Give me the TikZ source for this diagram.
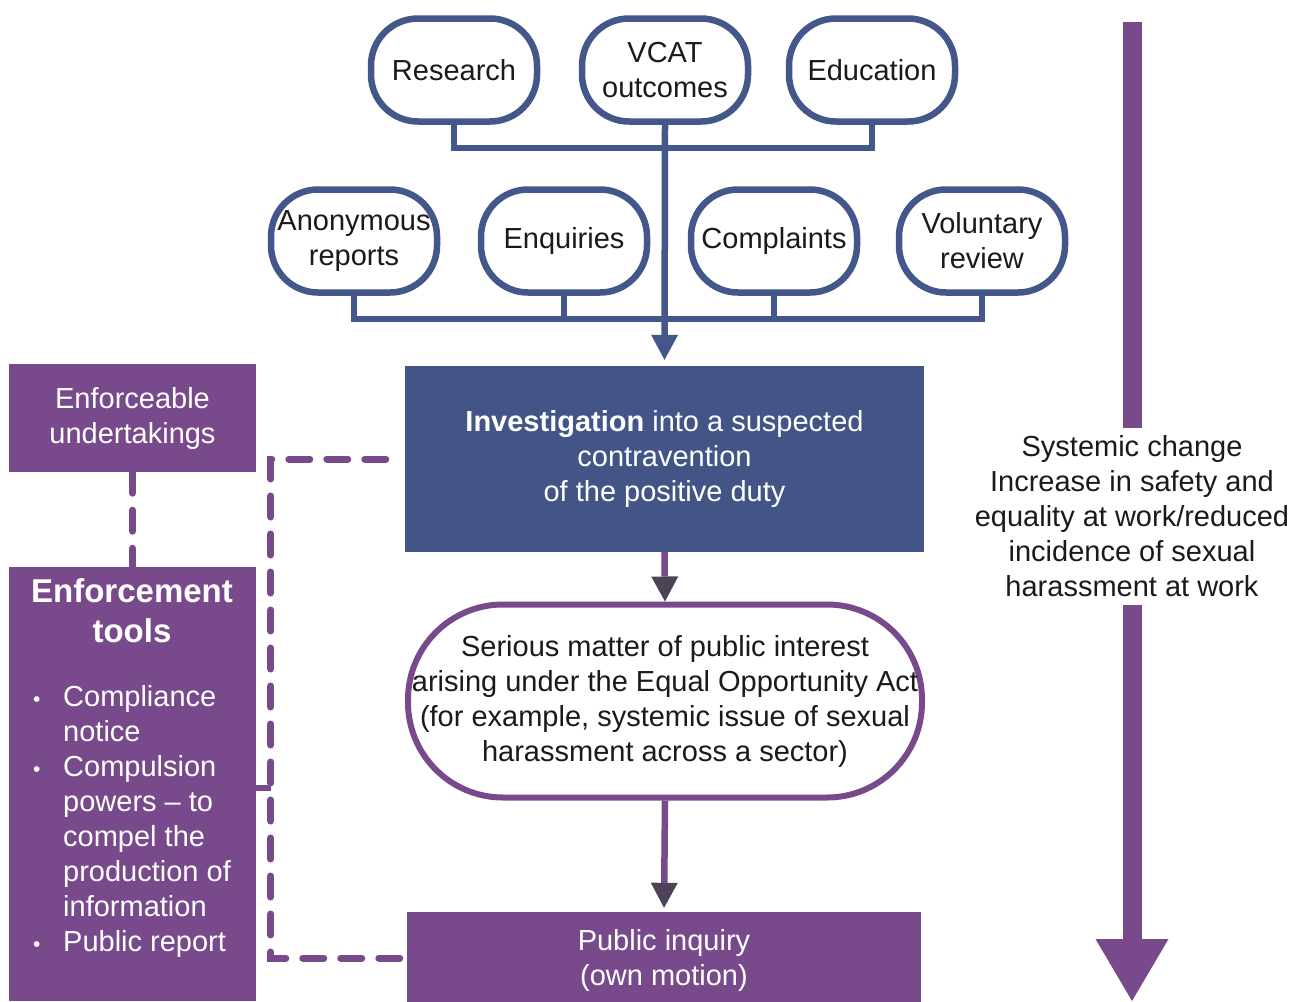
\documentclass[tikz,border=0pt]{standalone}
\usepackage{fontspec}
\setmainfont{Liberation Sans}
\usetikzlibrary{arrows.meta,calc}
\definecolor{bluec}{HTML}{44578A}
\definecolor{investc}{HTML}{435587}
\definecolor{purplec}{HTML}{784A8C}
\definecolor{headc}{HTML}{4D4356}
\definecolor{textc}{HTML}{1A1A1A}
\begin{document}
\begin{tikzpicture}[x=1pt,y=-1pt,
  txt/.style={font=\fontsize{29}{35}\selectfont, align=center, text=textc},
  pill/.style={txt, draw=bluec, line width=6.5pt, fill=white, rounded corners=47pt,
    minimum width=166pt, minimum height=103pt, inner sep=0pt},
  bline/.style={draw=bluec, line width=6.5pt},
  pbox/.style={fill=purplec, inner sep=0pt, font=\fontsize{29}{35}\selectfont, align=center, text=white},
  parrow/.style={draw=purplec, line width=6.5pt, -{Triangle[width=27pt,length=25pt,line width=0pt,color=headc]}},
  dashline/.style={draw=purplec, line width=7pt, dash pattern=on 21pt off 17pt, line cap=round},
  bul/.style={},
]
\useasboundingbox (0,0) rectangle (1292,1001);

% top row
\node[pill] (R) at (454,70) {Research};
\node[pill] (V) at (665,70) {VCAT\\outcomes};
\node[pill] (Ed) at (872,70) {Education};
% second row
\node[pill] (A) at (354,241) {Anonymous\\reports};
\node[pill] (En) at (564,241) {Enquiries};
\node[pill] (C) at (774,241) {Complaints};
\node[pill] (Vr) at (982,241) {Voluntary\\review};

\coordinate (tb) at (665,148);
\coordinate (bb) at (665,319);
\draw[bline] (R.south) |- (tb) -| (Ed.south);
\draw[bline] (A.south) |- (bb) -| (Vr.south);
\draw[bline] (En.south) -- (En.south |- bb);
\draw[bline] (C.south) -- (C.south |- bb);

% investigation
\node[fill=investc, inner sep=0pt, minimum width=519pt, minimum height=186pt,
  font=\fontsize{29}{35}\selectfont, align=center, text=white] (I) at (664.5,459)
  {\textbf{Investigation} into a suspected\\contravention\\of the positive duty};
\draw[bline, -{Triangle[width=27pt,length=25pt,line width=0pt]}, shorten >=6pt] (V.south) -- (I.north);

% serious matter
\node[txt, draw=purplec, line width=6pt, fill=white, rounded corners=95pt,
  minimum width=514pt, minimum height=193pt, inner sep=0pt] (S) at (665,701)
  {Serious matter of public interest\\arising under the Equal Opportunity Act\\(for example, systemic issue of sexual\\harassment across a sector)};

% public inquiry
\node[pbox, minimum width=514pt, minimum height=96pt] (P) at (664,960)
  {Public inquiry\\(own motion)};

\draw[parrow] (I.south) -- (S.north);
\draw[parrow, shorten >=4pt] (S.south) -- (P.north);

% left boxes
\node[pbox, minimum width=247pt, minimum height=108pt] (EU) at (132.5,418)
  {Enforceable\\undertakings};
\node[fill=purplec, inner sep=0pt, minimum width=247pt, minimum height=434pt] (ET) at (132.5,784) {};
\node[text=white, font=\bfseries\fontsize{33}{40}\selectfont, align=center, inner sep=0pt] (ETt) at (132,611)
  {Enforcement\\tools};
\node[anchor=north west, inner sep=0pt, text=white, font=\fontsize{29}{35}\selectfont] (ETl) at (29,682)
  {\begin{tabular}{@{}p{34pt}@{}l@{}}
   \hspace*{4pt}{\fontsize{21}{21}\selectfont\textbullet} & Compliance\\
   & notice\\
   \hspace*{4pt}{\fontsize{21}{21}\selectfont\textbullet} & Compulsion\\
   & powers – to\\
   & compel the\\
   & production of\\
   & information\\
   \hspace*{4pt}{\fontsize{21}{21}\selectfont\textbullet} & Public report
   \end{tabular}};

% dashed links
\draw[dashline] (EU.south) -- (ET.north);
\draw[dashline, shorten <=19pt] (I.west) -- ++(-134,0) |- (P.west |- 0,958);
\draw[draw=purplec, line width=6pt] (ET.east) ++(0,4) -- ++(15,0);

% right arrow
\coordinate (ta) at (1132,22);
\coordinate (ba) at (1132,1001);
\node[txt, inner sep=0pt, minimum height=177pt] (sys) at (1132,516.5)
  {Systemic change\\Increase in safety and\\equality at work/reduced\\incidence of sexual\\harassment at work};
\draw[draw=purplec, line width=19pt] (ta) -- (sys.north);
\draw[draw=purplec, line width=19pt, -{Triangle[width=73pt,length=62pt,line width=0pt]}] (sys.south) -- (ba);
\end{tikzpicture}
\end{document}
